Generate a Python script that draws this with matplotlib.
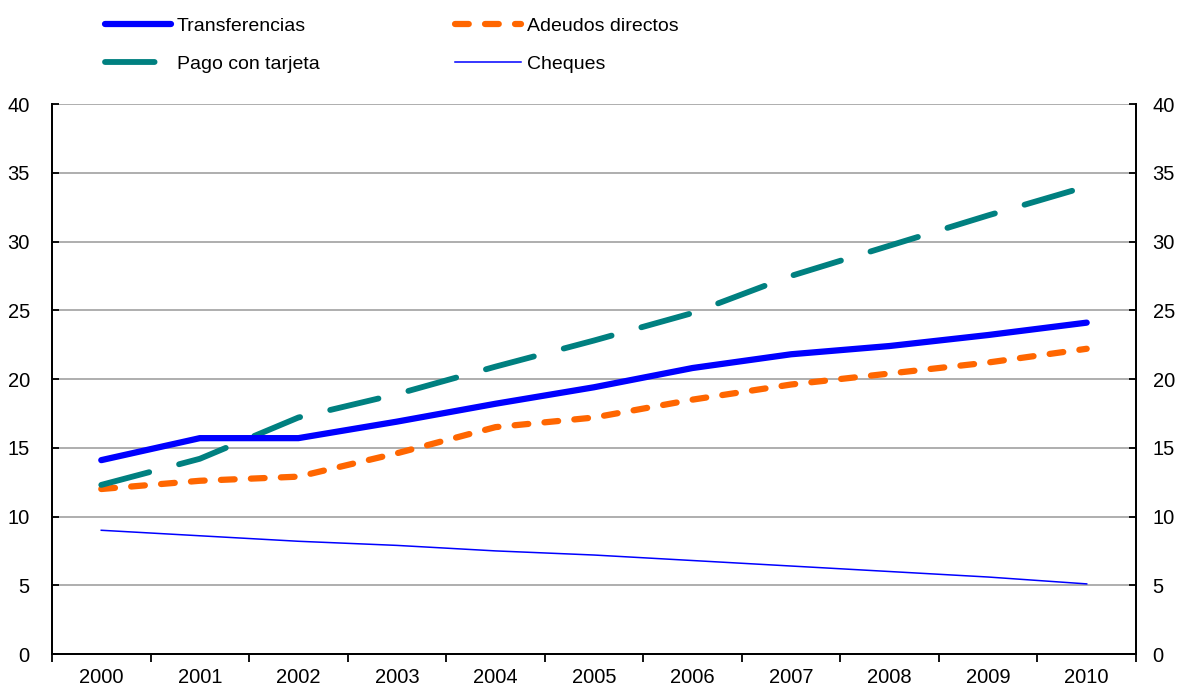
import numpy as np
import matplotlib.pyplot as plt

plt.rcParams['font.family'] = ['Liberation Sans', 'DejaVu Sans']

years = ['2000', '2001', '2002', '2003', '2004', '2005', '2006', '2007', '2008', '2009', '2010']
transferencias = [14.1, 15.7, 15.7, 16.9, 18.2, 19.4, 20.8, 21.8, 22.4, 23.2, 24.1]
adeudos = [12.0, 12.6, 12.9, 14.6, 16.5, 17.2, 18.5, 19.6, 20.4, 21.2, 22.2]
tarjeta = [12.3, 14.2, 17.2, 18.9, 20.9, 22.8, 24.8, 27.5, 29.7, 31.9, 34.0]
cheques = [9.0, 8.6, 8.2, 7.9, 7.5, 7.2, 6.8, 6.4, 6.0, 5.6, 5.1]

x = np.arange(len(years))

fig = plt.figure(figsize=(11.79, 6.87), dpi=100)
ax = fig.add_axes([0.0441, 0.048, 0.9194, 0.8006])

l1, = ax.plot(x, transferencias, color='#0000FF', lw=4.5, solid_capstyle='round',
              label='Transferencias', zorder=5)
l2, = ax.plot(x, adeudos, color='#FF6600', lw=4.5, dashes=(2.2, 2.6),
              dash_capstyle='round', label='Adeudos directos', zorder=4)
l3, = ax.plot(x, tarjeta, color='#008080', lw=4.2, dashes=(8.5, 5.3),
              dash_capstyle='round', label='Pago con tarjeta', zorder=4)
l4, = ax.plot(x, cheques, color='#0000FF', lw=1.1, label='Cheques', zorder=4)

ax.set_xlim(-0.5, len(years) - 0.5)
ax.set_ylim(0, 40)
ax.set_yticks(np.arange(0, 41, 5))
ax.yaxis.grid(True, color='#999999', lw=1.1)
ax.set_axisbelow(True)

ax.set_xticks(x)
ax.set_xticklabels(years)
ax.set_xticks(np.arange(-0.5, len(years)), minor=True)
ax.tick_params(axis='x', which='major', length=0, pad=10, labelsize=14.5)
ax.tick_params(axis='x', which='minor', length=6, width=1.3, direction='out')
ax.tick_params(axis='y', direction='in', length=5, width=1.3, pad=16, labelsize=14.5)

for s in ['left', 'right', 'bottom']:
    ax.spines[s].set_linewidth(1.3)
ax.spines['top'].set_visible(False)

ax2 = ax.twinx()
ax2.set_ylim(0, 40)
ax2.set_yticks(np.arange(0, 41, 5))
ax2.tick_params(axis='y', direction='in', length=5, width=1.3, pad=12, labelsize=14.5)
for s in ['left', 'right', 'bottom']:
    ax2.spines[s].set_linewidth(1.3)
ax2.spines['top'].set_visible(False)

# legend fills column-wise, so order handles to read row-wise
handles = [l1, l3, l2, l4]
fig.legend(handles, [h.get_label() for h in handles], ncol=2, loc='upper left',
           bbox_to_anchor=(105 / 1179, 0.975), frameon=False, fontsize=14,
           handlelength=3.4, handletextpad=0.3, columnspacing=6.95,
           labelspacing=1.05, borderpad=0, borderaxespad=0)

fig.savefig('out.png', dpi=100)
